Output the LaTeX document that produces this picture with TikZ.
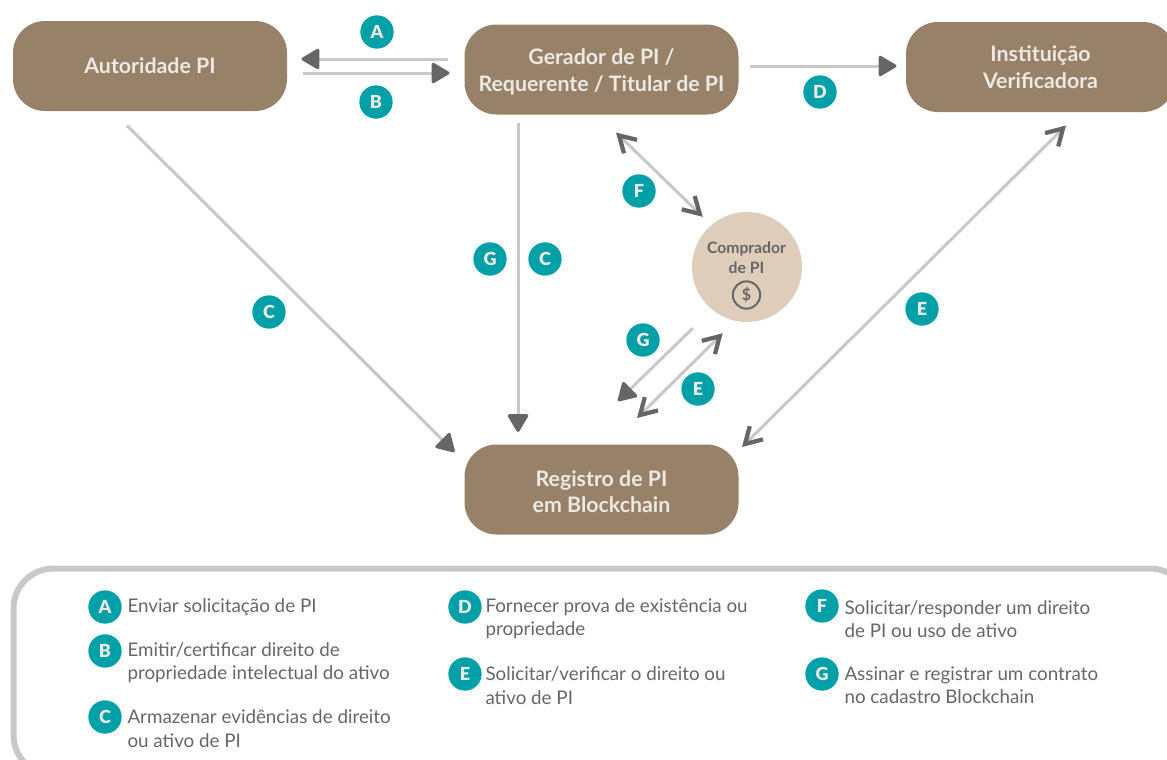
\documentclass[tikz,border=0pt]{standalone}
\usepackage{fontspec}
\setmainfont{Lato}
\newfontfamily\badgefont{Lato Black}
\usetikzlibrary{arrows.meta}
\definecolor{boxbrown}{RGB}{152,129,105}
\definecolor{buyertan}{RGB}{223,205,187}
\definecolor{badgeteal}{RGB}{0,160,168}
\definecolor{shaftgray}{RGB}{200,200,200}
\definecolor{headgray}{RGB}{102,102,102}
\definecolor{boxtext}{RGB}{236,232,226}
\newcommand{\lowstrut}{\rule{0pt}{15.5pt}}
\tikzset{
  every picture/.style={line width=0.75pt},
  solidtip/.tip={Triangle[color=headgray,length=14.5pt,width=16.5pt,round]},
  barbtip/.tip={Straight Barb[color=headgray,length=12pt,width=14pt,line width=3.2pt]},
  gaptip/.tip={Butt Cap[color=shaftgray,length=0.1pt]},
  roundbox/.style={fill=boxbrown,rounded corners=24pt,minimum width=205.5pt,minimum height=67.5pt,
    inner sep=0pt,text=boxtext,align=center,font=\fontsize{16}{19.8}\selectfont\bfseries},
  badge/.style={circle,fill=badgeteal,minimum size=25pt,inner sep=0pt,text=boxtext,font=\fontsize{13.5}{14}\badgefont},
  legendtext/.style={anchor=west,inner sep=0pt,text=headgray,align=left,font=\fontsize{14.1}{17.5}\selectfont},
  solidline/.style={draw=shaftgray,line width=2.25pt,-{solidtip}},
  barbline/.style={draw=shaftgray,line width=2.25pt,{barbtip[] gaptip[]}-{gaptip[] barbtip[]}},
}

\begin{document}
\begin{tikzpicture}[x=0.75pt,y=0.75pt,yscale=-1,xscale=1]
\path[use as bounding box,clip] (0,0) rectangle (1167,760);

% boxes
\node[roundbox] (autoridade) at (150,66) {Autoridade PI};
\node[roundbox] (gerador) at (601.5,69.5) {\lowstrut Gerador de PI /\\Requerente / Titular de PI};
\node[roundbox,minimum width=201.75pt] (instituicao) at (1040.5,67) {Instituição\\Verificadora};
\node[roundbox] (registro) at (601.5,489.5) {\lowstrut Registro de PI\\em Blockchain};
\node[circle,fill=buyertan,minimum size=82.5pt,inner sep=0pt] (comprador) at (747,267) {};
\node[text=headgray,align=center,inner sep=0pt,font=\fontsize{11.8}{14.8}\selectfont\bfseries] (compradortext) at (746.5,258) {Comprador\\de PI};
\node[circle,draw=headgray,line width=1.5pt,minimum size=20.5pt,inner sep=0pt,text=headgray,font=\fontsize{12}{12}\selectfont\bfseries] (dollar) at (746.5,295) {\$};

% arrows
\draw[solidline] ([shift={(-16.5,-10.5)}]gerador.west) -- ([shift={(14,-7)}]autoridade.east);
\draw[solidline] ([shift={(15,7)}]autoridade.east) -- ([shift={(-14.5,3.5)}]gerador.west);
\draw[solidline] ([shift={(10.5,-3.5)}]gerador.east) -- ([shift={(-9,-1)}]instituicao.west);
\draw[solidline] ([shift={(-23,14)}]autoridade.south) -- ([shift={(-9.5,8)}]registro.north west);
\draw[solidline] ([shift={(-83.5,7.5)}]gerador.south) -- ([shift={(-83.5,-12)}]registro.north);
\draw[barbline] ([shift={(14.5,17.5)}]gerador.south) -- ([shift={(-5,-11)}]comprador.north west);
\draw[solidline] ([shift={(-15,22)}]comprador.south west) -- ([shift={(16.5,-43)}]registro.north);
\draw[barbline] ([shift={(15,27)}]comprador.south west) -- ([shift={(35.5,-26)}]registro.north);
\draw[barbline] ([shift={(25.5,13)}]instituicao.south) -- ([shift={(3,3)}]registro.north east);

% badges on the arrows
\node[badge] (badgeA) at (377,32) {A};
\node[badge] (badgeB) at (376,102) {B};
\node[badge] (badgeD) at (820,92) {D};
\node[badge] (badgeCa) at (269,312) {C};
\node[badge] (badgeGa) at (490,259) {G};
\node[badge] (badgeCb) at (545,259) {C};
\node[badge] (badgeF) at (639,191) {F};
\node[badge] (badgeEa) at (922,309) {E};
\node[badge] (badgeGb) at (643,340) {G};
\node[badge] (badgeEb) at (698,389) {E};

% legend
\draw[draw=shaftgray,line width=4.5pt,rounded corners=30pt] (13.5,568.5) rectangle (1190,775);
\node[badge] (keyA) at (105,607) {A};
\node[badge] (keyB) at (105,651) {B};
\node[badge] (keyC) at (105,717) {C};
\node[badge] (keyD) at (465,607) {D};
\node[badge] (keyE) at (465,674) {E};
\node[badge] (keyF) at (822,606) {F};
\node[badge] (keyG) at (822,674) {G};
\node[legendtext] (textA) at (127,607.5) {Enviar solicitação de PI};
\node[legendtext] (textB) at (127,662.5) {Emitir/certificar direito de\\propriedade intelectual do ativo};
\node[legendtext] (textC) at (127,728.5) {Armazenar evidências de direito\\ou ativo de PI};
\node[legendtext] (textD) at (485,619) {Fornecer prova de existência ou\\propriedade};
\node[legendtext] (textE) at (485,685.5) {Solicitar/verificar o direito ou\\ativo de PI};
\node[legendtext] (textF) at (844,619) {Solicitar/responder um direito\\de PI ou uso de ativo};
\node[legendtext] (textG) at (844,685.5) {Assinar e registrar um contrato\\no cadastro Blockchain};
\end{tikzpicture}
\end{document}
